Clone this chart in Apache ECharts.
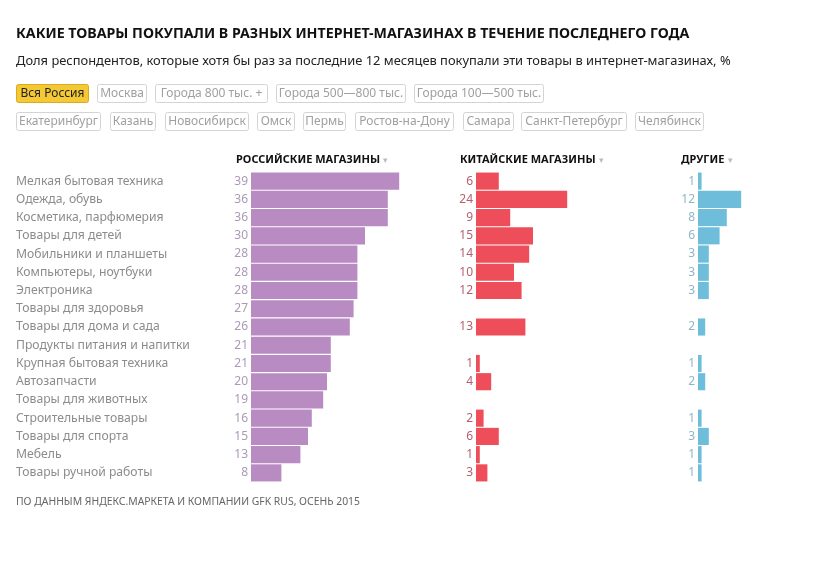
<!DOCTYPE html>
<html>
<head>
<meta charset="utf-8">
<script src="https://cdn.jsdelivr.net/npm/echarts@6/dist/echarts.min.js"></script>
<style>
html,body{margin:0;padding:0;background:#fff;}
#chart{width:837px;height:562px;}
</style>
</head>
<body>
<div id="chart"></div>
<script>
var categories = ['Мелкая бытовая техника','Одежда, обувь','Косметика, парфюмерия','Товары для детей','Мобильники и планшеты','Компьютеры, ноутбуки','Электроника','Товары для здоровья','Товары для дома и сада','Продукты питания и напитки','Крупная бытовая техника','Автозапчасти','Товары для животных','Строительные товары','Товары для спорта','Мебель','Товары ручной работы'];
var russian = [39,36,36,30,28,28,28,27,26,21,21,20,19,16,15,13,8];
var chinese = [6,24,9,15,14,10,12,null,13,null,1,4,null,2,6,1,3];
var others  = [1,12,8,6,3,3,3,null,2,null,1,2,null,1,3,1,1];
var columnTitles = ['РОССИЙСКИЕ МАГАЗИНЫ','КИТАЙСКИЕ МАГАЗИНЫ','ДРУГИЕ'];
var regionsRow1 = ['Вся Россия','Москва','Города 800 тыс. +','Города 500—800 тыс.','Города 100—500 тыс.'];
var regionsRow2 = ['Екатеринбург','Казань','Новосибирск','Омск','Пермь','Ростов-на-Дону','Самара','Санкт-Петербург','Челябинск'];
var titleText = 'КАКИЕ ТОВАРЫ ПОКУПАЛИ В РАЗНЫХ ИНТЕРНЕТ-МАГАЗИНАХ В ТЕЧЕНИЕ ПОСЛЕДНЕГО ГОДА';
var subtitleText = 'Доля респондентов, которые хотя бы раз за последние 12 месяцев покупали эти товары в интернет-магазинах, %';
var sourceText = 'ПО ДАННЫМ ЯНДЕКС.МАРКЕТА И КОМПАНИИ GFK RUS, ОСЕНЬ 2015';

var FONT = '"Noto Sans", sans-serif';
var chart = echarts.init(document.getElementById('chart'), null, {renderer:'canvas'});

// button boxes [left, right]
var row1Box = [[16,88],[97,146],[155,267],[276,405],[414,543]];
var row2Box = [[16,100],[110,155],[165,248],[257,294],[303,345],[355,453],[463,513],[521,626],[635,703]];

var graphics = [];
function addButtons(labels, boxes, y, activeIndex){
  labels.forEach(function(t,i){
    var active = i === activeIndex;
    var x0 = boxes[i][0], w = boxes[i][1] - boxes[i][0];
    graphics.push({
      type:'rect', shape:{x:x0+0.5, y:y+0.5, width:w, height:18, r:2},
      style:{fill: active ? '#f5c935' : '#fff', stroke: active ? '#d9ab1e' : '#d4d4d4', lineWidth:1}
    });
    graphics.push({
      type:'text', x: x0 + w/2 + 0.5, y: y + 9.5,
      style:{text:t, font:'12px ' + FONT, fill: active ? '#222' : '#a0a0a0', align:'center', verticalAlign:'middle'}
    });
  });
}
addButtons(regionsRow1, row1Box, 84, 0);
addButtons(regionsRow2, row2Box, 112, -1);

var headerX = [236,460,681];
columnTitles.forEach(function(t,i){
  graphics.push({
    type:'text', left: headerX[i], top: 154,
    style:{
      text: '{h|' + t + '} {c|▾}',
      rich:{
        h:{font:'bold 11px ' + FONT, fill:'#111'},
        c:{font:'9px ' + FONT, fill:'#bbb'}
      }
    }
  });
});

graphics.push({type:'text', left:16, top:27, style:{text:titleText, font:'bold 14.2px ' + FONT, fill:'#111'}});
graphics.push({type:'text', left:16, top:55, style:{text:subtitleText, font:'12.9px ' + FONT, fill:'#222'}});
graphics.push({type:'text', left:16, top:497, style:{text:sourceText, font:'10.4px ' + FONT, fill:'#666'}});

var grids = [
  {left:251, top:172, width:152, height:310},
  {left:476, top:172, width:152, height:310},
  {left:698, top:172, width:108, height:310}
];
var maxes = [40,40,30];
var barColors = ['#b88bc2','#ee4e5a','#6ebedb'];
var labelColors = ['#ad98b6','#b5606e','#8db6c6'];
var datas = [russian, chinese, others];

var xAxes = [], yAxes = [], series = [];
for (var i=0;i<3;i++){
  xAxes.push({gridIndex:i, type:'value', min:0, max:maxes[i], show:false});
  yAxes.push({
    gridIndex:i, type:'category', data:categories, inverse:true,
    axisLine:{show:false}, axisTick:{show:false}, splitLine:{show:false},
    axisLabel: i===0 ? {show:true, align:'left', margin:235, color:'#8c8c8c', fontSize:12.2, fontFamily:FONT} : {show:false}
  });
  series.push({
    type:'bar', xAxisIndex:i, yAxisIndex:i, data:datas[i],
    barCategoryGap:'6%',
    itemStyle:{color:barColors[i]},
    label:{show:true, position:'left', distance:3, color:labelColors[i], fontSize:12, fontFamily:FONT},
    silent:true, animation:false
  });
}

chart.setOption({
  backgroundColor:'#fff',
  animation:false,
  grid:grids,
  xAxis:xAxes,
  yAxis:yAxes,
  series:series,
  graphic:graphics
});
</script>
</body>
</html>
